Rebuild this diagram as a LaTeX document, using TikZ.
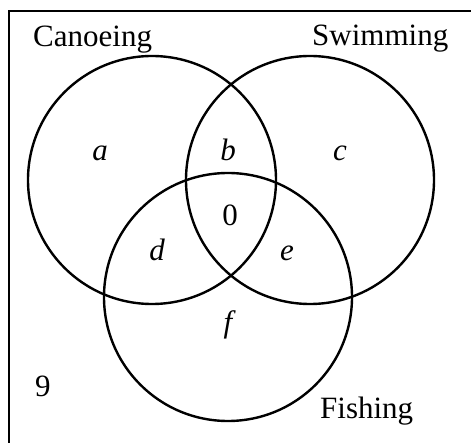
\documentclass[tikz,border=0pt]{standalone}
\usepackage{fontspec}
\setmainfont{Liberation Serif}
\usetikzlibrary{positioning}

\begin{document}
\begin{tikzpicture}[x=1pt, y=-1pt,
  set/.style={draw=black, circle, minimum size=248pt, inner sep=0pt,
              line width=2.4pt},
  setname/.style={anchor=base west, inner sep=0pt,
                  font=\fontsize{31}{36}\selectfont},
  region/.style={inner sep=0pt, font=\fontsize{31}{36}\selectfont\itshape},
  count/.style={inner sep=0pt, font=\fontsize{31}{36}\selectfont}
]
\clip (0,0) rectangle (471,443);
%% Universe
\draw[line width=2pt] (9,11) rectangle (490,470);

%% Sets
\node[set] (canoe) at (152,180) {};
\node[set] (swim)  at (310,180) {};
\node[set] (fish)  at (228,297) {};

\node[setname] (canoelbl) at (33,47)  {Canoeing};
\node[setname] (swimlbl)  at (312,46) {Swimming};
\node[setname] (fishlbl)  at (320,418) {Fishing};

%% Regions
\node[region] (ra) at (100,153) {a};
\node[region] (rb) at (228,150) {b};
\node[region] (rc) at (340,153) {c};
\node[region] (rd) at (157,250) {d};
\node[region] (re) at (287,253) {e};
\node[region] (rf) at (228,325) {f};
\node[count]  (rabc) at (230,215) {0};
\node[count, anchor=base west] (rout) at (35,396) {9};

\end{tikzpicture}
\end{document}
